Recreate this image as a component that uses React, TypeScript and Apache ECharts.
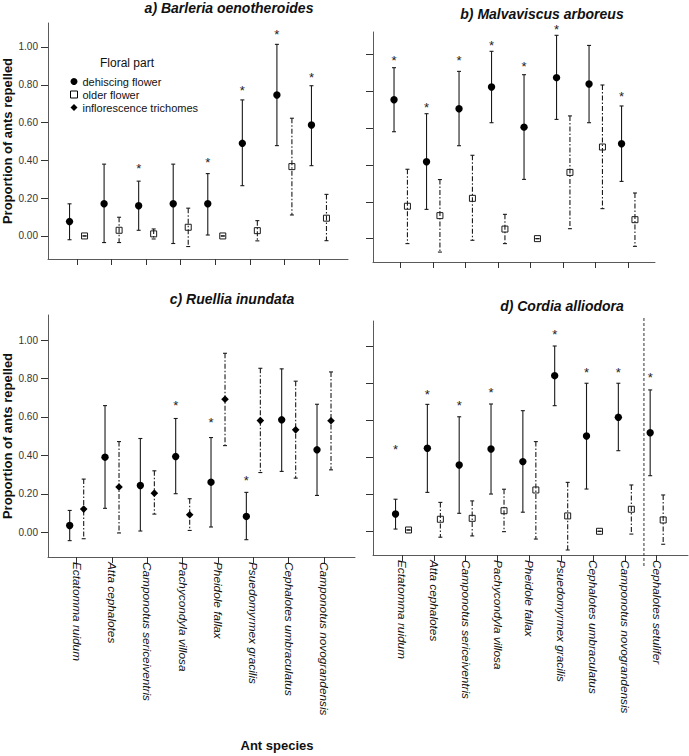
import React, { useEffect, useRef } from 'react';
import * as echarts from 'echarts';

const FONT = "'Liberation Sans', Arial, Helvetica, sans-serif";

// ---------- data ----------
const categories8 = [
  'Ectatomma ruidum',
  'Atta cephalotes',
  'Camponotus sericeiventris',
  'Pachycondyla villosa',
  'Pheidole fallax',
  'Psuedomyrmex gracilis',
  'Cephalotes umbraculatus',
  'Camponotus novograndensis',
];
const categories9 = [...categories8, 'Cephalotes setulifer'];

const yTickValues = [0, 0.2, 0.4, 0.6, 0.8, 1.0];

// a) Barleria oenotheroides
const aDehMean = [0.076, 0.17, 0.16, 0.17, 0.17, 0.49, 0.746, 0.587];
const aDehLow = [-0.02, -0.035, 0.03, -0.04, 0.005, 0.266, 0.478, 0.372];
const aDehHigh = [0.17, 0.38, 0.29, 0.38, 0.33, 0.72, 1.014, 0.795];
const aOldMean = [0, 0.03, 0.011, 0.046, 0, 0.028, 0.367, 0.094];
const aOldLow = [0, -0.035, -0.016, -0.056, 0, -0.026, 0.111, -0.025];
const aOldHigh = [0, 0.099, 0.037, 0.147, 0, 0.081, 0.623, 0.22];
const aStars = [null, null, 0.372, null, 0.402, 0.783, 1.081, 0.852];

// b) Malvaviscus arboreus
const bDehMean = [0.755, 0.418, 0.706, 0.824, 0.606, 0.875, 0.84, 0.516];
const bDehLow = [0.581, 0.159, 0.505, 0.63, 0.322, 0.648, 0.63, 0.311];
const bDehHigh = [0.929, 0.679, 0.909, 1.018, 0.891, 1.105, 1.05, 0.721];
const bOldMean = [0.176, 0.125, 0.219, 0.052, 0, 0.36, 0.498, 0.103];
const bOldLow = [-0.027, -0.073, -0.009, -0.027, 0, 0.054, 0.163, -0.042];
const bOldHigh = [0.377, 0.321, 0.453, 0.132, 0, 0.667, 0.835, 0.248];
const bStars = [0.984, 0.728, 0.984, 1.068, 0.951, 1.154, null, 0.791];

// c) Ruellia inundata
const cDehMean = [0.036, 0.391, 0.244, 0.394, 0.261, 0.083, 0.585, 0.429];
const cDehLow = [-0.043, 0.125, 0.007, 0.201, 0.028, -0.038, 0.317, 0.192];
const cDehHigh = [0.114, 0.659, 0.488, 0.592, 0.493, 0.208, 0.85, 0.666];
const cTriMean = [0.121, 0.236, 0.204, 0.092, 0.692, 0.581, 0.533, 0.58];
const cTriLow = [-0.033, -0.003, 0.095, 0.01, 0.451, 0.311, 0.282, 0.325];
const cTriHigh = [0.277, 0.472, 0.32, 0.175, 0.931, 0.853, 0.786, 0.834];
const cStars = [null, null, null, 0.675, 0.585, 0.287, null, null];

// d) Cordia alliodora
const dDehMean = [0.093, 0.448, 0.358, 0.444, 0.376, 0.84, 0.514, 0.615, 0.532];
const dDehLow = [0.012, 0.21, 0.097, 0.201, 0.103, 0.678, 0.228, 0.435, 0.3];
const dDehHigh = [0.173, 0.685, 0.618, 0.687, 0.651, 1.0, 0.799, 0.799, 0.763];
const dOldMean = [0.007, 0.065, 0.07, 0.111, 0.223, 0.083, 0, 0.119, 0.061];
const dOldLow = [0.007, -0.032, -0.025, -0.002, -0.042, -0.101, 0, -0.015, -0.07];
const dOldHigh = [0.007, 0.156, 0.164, 0.227, 0.484, 0.264, 0, 0.25, 0.196];
const dStars = [0.46, 0.753, 0.694, 0.763, null, 1.077, 0.874, 0.874, 0.844];

const LEG_DEH = 'dehiscing flower';
const LEG_OLD = 'older flower';
const LEG_TRI = 'inflorescence trichomes';

// ---------- helpers ----------
const rows = (mean: number[], low: number[], high: number[]) =>
  mean.map((m, i) => [i + 1, m, low[i], high[i]]);
const starRows = (s: (number | null)[]) =>
  s.map((v, i) => (v == null ? null : [i + 1, v])).filter((r) => r !== null) as number[][];

const INK = '#1a1a1a';

function barRender(offset: number, kind: 'circle' | 'rect' | 'diamond', dashed: boolean) {
  return (params: any, api: any) => {
    const x = api.value(0);
    const m = api.value(1);
    const lo = api.value(2);
    const hi = api.value(3);
    const pm = api.coord([x, m]);
    const pl = api.coord([x, lo]);
    const ph = api.coord([x, hi]);
    const cx = pm[0] + offset;
    const whisker = {
      type: 'line',
      shape: { x1: cx, y1: ph[1], x2: cx, y2: pl[1] },
      style: { stroke: INK, lineWidth: 1.1, lineDash: dashed ? [5, 2, 1.5, 2] : null },
    };
    const capT = {
      type: 'line',
      shape: { x1: cx - 2, y1: ph[1], x2: cx + 2, y2: ph[1] },
      style: { stroke: INK, lineWidth: 1.1 },
    };
    const capB = {
      type: 'line',
      shape: { x1: cx - 2, y1: pl[1], x2: cx + 2, y2: pl[1] },
      style: { stroke: INK, lineWidth: 1.1 },
    };
    let marker: any;
    if (kind === 'circle') {
      marker = { type: 'circle', shape: { cx, cy: pm[1], r: 3.7 }, style: { fill: '#000' } };
    } else if (kind === 'rect') {
      marker = {
        type: 'rect',
        shape: { x: cx - 3, y: pm[1] - 3, width: 6, height: 6 },
        style: { fill: '#fff', stroke: INK, lineWidth: 1 },
      };
    } else {
      const r = 3.8;
      marker = {
        type: 'polygon',
        shape: { points: [[cx, pm[1] - r], [cx + r, pm[1]], [cx, pm[1] + r], [cx - r, pm[1]]] },
        style: { fill: '#000' },
      };
    }
    const children = kind === 'rect' ? [marker, whisker, capT, capB] : [whisker, capT, capB, marker];
    return { type: 'group', children };
  };
}

function starRender(offset: number) {
  return (params: any, api: any) => {
    const p = api.coord([api.value(0), api.value(1)]);
    return {
      type: 'text',
      x: p[0] + offset,
      y: p[1] + 3,
      style: {
        text: '*',
        fontSize: 13,
        fontFamily: FONT,
        fill: '#222',
        align: 'center',
        verticalAlign: 'middle',
      },
    };
  };
}

type Group = { name: string; kind: 'circle' | 'rect' | 'diamond'; dashed: boolean; data: number[][]; side: number };

type Panel = {
  grid: { left: number; top: number; width: number; height: number };
  xMin: number;
  xMax: number;
  yMin: number;
  yMax: number;
  showY: boolean;
  showX: boolean;
  cats: string[];
  off: number;
  groups: Group[];
  stars: number[][];
};

const panels: Panel[] = [
  {
    grid: { left: 48, top: 23, width: 300, height: 236 },
    xMin: 0.16, xMax: 8.84, yMin: -0.122, yMax: 1.127,
    showY: true, showX: false, cats: categories8, off: 7.5,
    groups: [
      { name: LEG_DEH, kind: 'circle', dashed: false, data: rows(aDehMean, aDehLow, aDehHigh), side: -1 },
      { name: LEG_OLD, kind: 'rect', dashed: true, data: rows(aOldMean, aOldLow, aOldHigh), side: 1 },
    ],
    stars: starRows(aStars),
  },
  {
    grid: { left: 373, top: 32, width: 282, height: 230 },
    xMin: 0.147, xMax: 8.823, yMin: -0.127, yMax: 1.123,
    showY: false, showX: false, cats: categories8, off: 6.7,
    groups: [
      { name: LEG_DEH, kind: 'circle', dashed: false, data: rows(bDehMean, bDehLow, bDehHigh), side: -1 },
      { name: LEG_OLD, kind: 'rect', dashed: true, data: rows(bOldMean, bOldLow, bOldHigh), side: 1 },
    ],
    stars: starRows(bStars),
  },
  {
    grid: { left: 48, top: 315, width: 307, height: 242 },
    xMin: 0.188, xMax: 8.877, yMin: -0.128, yMax: 1.13,
    showY: true, showX: true, cats: categories8, off: 7,
    groups: [
      { name: LEG_DEH, kind: 'circle', dashed: false, data: rows(cDehMean, cDehLow, cDehHigh), side: -1 },
      { name: LEG_TRI, kind: 'diamond', dashed: true, data: rows(cTriMean, cTriLow, cTriHigh), side: 1 },
    ],
    stars: starRows(cStars),
  },
  {
    grid: { left: 373, top: 321, width: 315, height: 234 },
    xMin: 0.088, xMax: 9.984, yMin: -0.128, yMax: 1.135,
    showY: false, showX: true, cats: categories9, off: 6.5,
    groups: [
      { name: LEG_DEH, kind: 'circle', dashed: false, data: rows(dDehMean, dDehLow, dDehHigh), side: -1 },
      { name: LEG_OLD, kind: 'rect', dashed: true, data: rows(dOldMean, dOldLow, dOldHigh), side: 1 },
    ],
    stars: starRows(dStars),
  },
];

const SEPARATOR_X = 8.6; // dashed divider before the last category of panel d

export default function App() {
  const ref = useRef<HTMLDivElement>(null);

  useEffect(() => {
    if (!ref.current) return;
    const chart = echarts.init(ref.current, null, { renderer: 'svg' });

    const grid: any[] = [];
    const xAxis: any[] = [];
    const yAxis: any[] = [];
    const series: any[] = [];

    panels.forEach((p, i) => {
      grid.push({ ...p.grid, containLabel: false });
      const ticks = p.cats.map((_, k) => k + 1);
      xAxis.push({
        type: 'value',
        gridIndex: i,
        min: p.xMin,
        max: p.xMax,
        axisLine: { show: true, onZero: false, lineStyle: { color: '#5a5a5a', width: 1 } },
        axisTick: { show: true, length: 6, customValues: ticks, lineStyle: { color: '#333' } },
        axisLabel: {
          show: p.showX,
          customValues: ticks,
          rotate: -90,
          margin: 5,
          formatter: (v: number) => p.cats[Math.round(v) - 1] ?? '',
          fontSize: 11.8,
          fontStyle: 'italic',
          fontFamily: FONT,
          color: '#111',
        },
        splitLine: { show: false },
      });
      yAxis.push({
        type: 'value',
        gridIndex: i,
        min: p.yMin,
        max: p.yMax,
        axisLine: { show: true, onZero: false, lineStyle: { color: '#5a5a5a', width: 1 } },
        axisTick: { show: true, length: 7, customValues: yTickValues, lineStyle: { color: '#333' } },
        axisLabel: {
          show: p.showY,
          customValues: yTickValues,
          formatter: (v: number) => v.toFixed(2),
          margin: 10,
          fontSize: 10,
          fontFamily: FONT,
          color: '#333',
        },
        splitLine: { show: false },
        name: p.showY ? 'Proportion of ants repelled' : '',
        nameLocation: 'middle',
        nameGap: 34,
        nameTextStyle: { fontSize: 13, fontWeight: 'bold', fontFamily: FONT, color: '#111' },
      });

      p.groups.forEach((g) => {
        series.push({
          type: 'custom',
          name: g.name,
          xAxisIndex: i,
          yAxisIndex: i,
          data: g.data,
          encode: { x: 0, y: [1, 2, 3] },
          itemStyle: g.kind === 'rect' ? { color: '#fff', borderColor: '#000', borderWidth: 1 } : { color: '#000' },
          clip: false,
          renderItem: barRender(g.side * p.off, g.kind, g.dashed),
          z: g.kind === 'rect' ? 3 : 2,
        });
      });

      series.push({
        type: 'custom',
        name: 'significance',
        xAxisIndex: i,
        yAxisIndex: i,
        data: p.stars,
        encode: { x: 0, y: 1 },
        clip: false,
        renderItem: starRender(-p.off),
        z: 4,
      });
    });

    // dashed divider in panel d
    const pd = panels[3];
    series.push({
      type: 'custom',
      name: 'divider',
      xAxisIndex: 3,
      yAxisIndex: 3,
      data: [[SEPARATOR_X, pd.yMax, pd.yMin]],
      clip: false,
      silent: true,
      renderItem: (params: any, api: any) => {
        const top = api.coord([api.value(0), api.value(1)]);
        const bot = api.coord([api.value(0), api.value(2)]);
        return {
          type: 'line',
          shape: { x1: top[0], y1: top[1] - 3, x2: bot[0], y2: bot[1] + 11 },
          style: { stroke: '#333', lineWidth: 1, lineDash: [3, 2] },
        };
      },
      z: 1,
    });

    const titleStyle = (text: string, x: number, y: number) => ({
      type: 'text',
      x,
      y,
      style: {
        text,
        fontSize: 14,
        fontWeight: 'bold',
        fontStyle: 'italic',
        fontFamily: FONT,
        fill: '#111',
        align: 'center',
        verticalAlign: 'top',
      },
    });

    chart.setOption({
      animation: false,
      backgroundColor: '#fff',
      grid,
      xAxis,
      yAxis,
      series,
      legend: {
        orient: 'vertical',
        left: 70,
        top: 76,
        itemWidth: 7,
        itemHeight: 7,
        itemGap: 2,
        selectedMode: false,
        padding: 0,
        textStyle: { fontSize: 11, fontFamily: FONT, color: '#111' },
        data: [
          { name: LEG_DEH, icon: 'circle', itemStyle: { color: '#000' } },
          { name: LEG_OLD, icon: 'rect', itemStyle: { color: '#fff', borderColor: '#000', borderWidth: 1 } },
          { name: LEG_TRI, icon: 'diamond', itemStyle: { color: '#000' } },
        ],
      },
      graphic: {
        elements: [
          titleStyle('a) Barleria oenotheroides', 229, 1),
          titleStyle('b) Malvaviscus arboreus', 542, 7),
          titleStyle('c) Ruellia inundata', 232, 292),
          titleStyle('d) Cordia alliodora', 562, 299),
          {
            type: 'text',
            x: 100,
            y: 57,
            style: { text: 'Floral part', fontSize: 12, fontFamily: FONT, fill: '#111', align: 'left', verticalAlign: 'top' },
          },
          {
            type: 'text',
            x: 277,
            y: 745,
            style: {
              text: 'Ant species',
              fontSize: 13,
              fontWeight: 'bold',
              fontFamily: FONT,
              fill: '#111',
              align: 'center',
              verticalAlign: 'middle',
            },
          },
        ],
      },
    });

    return () => chart.dispose();
  }, []);

  return (
    <div
      ref={ref}
      style={{ position: 'fixed', left: 0, top: 0, width: 689, height: 756, background: '#fff' }}
    />
  );
}
